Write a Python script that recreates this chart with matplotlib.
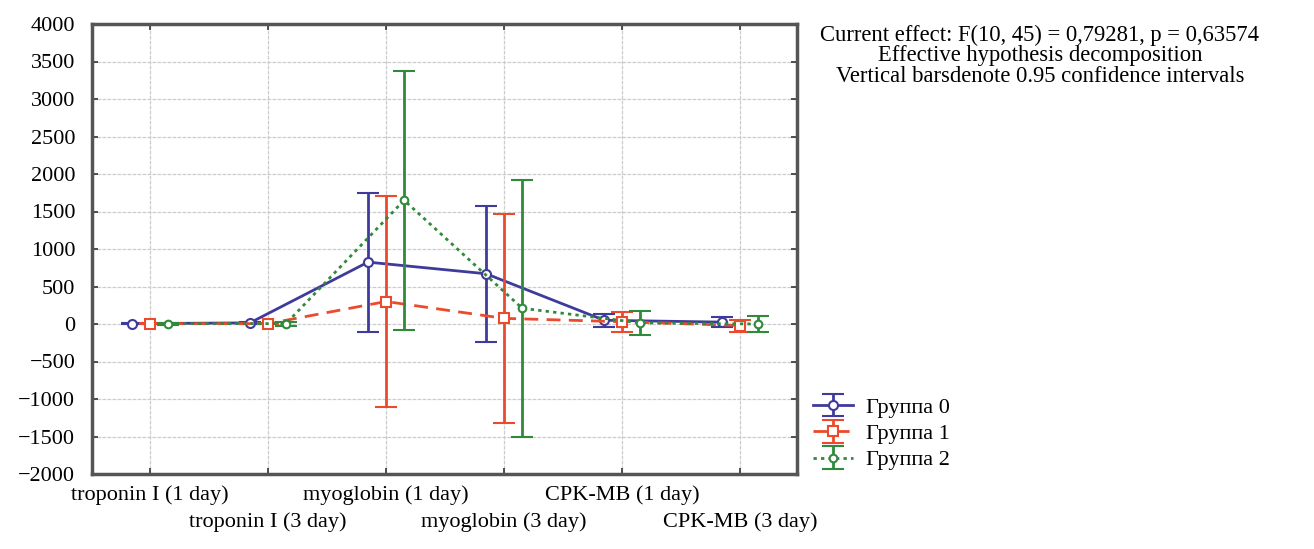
import matplotlib
matplotlib.use("Agg")
import matplotlib.pyplot as plt
import numpy as np

categories = ["troponin I (1 day)", "troponin I (3 day)", "myoglobin (1 day)",
              "myoglobin (3 day)", "CPK-MB (1 day)", "CPK-MB (3 day)"]
groups = ["Группа 0", "Группа 1", "Группа 2"]
g0_mean = [5, 15, 825, 670, 50, 25]
g0_ci = [10, 10, 925, 910, 90, 65]
g1_mean = [5, 5, 300, 75, 30, -20]
g1_ci = [10, 10, 1410, 1390, 130, 80]
g2_mean = [5, 5, 1650, 210, 15, 0]
g2_ci = [15, 25, 1730, 1710, 155, 110]
yticks = list(range(-2000, 4001, 500))

plt.rcParams['font.family'] = ['Liberation Serif', 'DejaVu Serif']

fig = plt.figure(figsize=(13.14, 5.49), dpi=100)
ax = fig.add_axes([92/1314, 1-474/549, (797-92)/1314, (474-24)/549])

x = np.arange(len(categories))
offsets = [-0.153, 0.0, 0.153]
colors = ["#3f3b9c", "#ec4a2c", "#2f8a3c"]
styles = ["-", (0, (5, 3)), (0, (1.2, 1.5))]
markers = ["o", "s", "o"]
msizes = [6.5, 7.5, 5.5]
means = [g0_mean, g1_mean, g2_mean]
cis = [g0_ci, g1_ci, g2_ci]

handles = []
for i in range(3):
    h = ax.errorbar(x + offsets[i], means[i], yerr=cis[i], color=colors[i],
                    ecolor=colors[i], elinewidth=2.0, capsize=8, capthick=2.0,
                    linestyle=styles[i], linewidth=2.0, marker=markers[i],
                    markersize=msizes[i], markerfacecolor="white",
                    markeredgecolor=colors[i], markeredgewidth=1.5,
                    label=groups[i], zorder=3 + i)
    handles.append(h)

ax.set_xlim(-0.49, 5.48)
ax.set_ylim(-2000, 4000)
ax.set_yticks(yticks)
ax.set_yticklabels(["\u2212" + str(-v) if v < 0 else str(v) for v in yticks], fontsize=16)
ax.set_xticks(x)
ax.set_xticklabels([])
for i, c in enumerate(categories):
    ax.annotate(c, xy=(x[i], 0), xycoords=('data', 'axes fraction'),
                xytext=(0, -15.5 if i % 2 == 0 else -34.5), textcoords='offset points',
                ha='center', va='center', fontsize=16, annotation_clip=False)

ax.grid(True, color="#cccccc", linestyle=(0, (3, 1)), linewidth=0.9)
ax.set_axisbelow(True)
for s in ax.spines.values():
    s.set_color("#555555")
    s.set_linewidth(2.5)
ax.tick_params(direction='in', length=4, width=1.2, color="#333333",
               top=True, right=True, pad=12)

fig.text(1040/1314, 1-35/549, "Current effect: F(10, 45) = 0,79281, p = 0,63574",
         ha='center', va='center', fontsize=16.3)
fig.text(1040/1314, 1-55.5/549, "Effective hypothesis decomposition",
         ha='center', va='center', fontsize=16.3)
fig.text(1040/1314, 1-76/549, "Vertical barsdenote 0.95 confidence intervals",
         ha='center', va='center', fontsize=16.3)

fig.legend(handles=handles, labels=groups, loc='upper left',
           bbox_to_anchor=(797/1314, 1-382/549), frameon=False, fontsize=16,
           handlelength=1.8, handletextpad=0.6, labelspacing=0.25,
           borderpad=0.2)

fig.savefig("out.png", dpi=100)
